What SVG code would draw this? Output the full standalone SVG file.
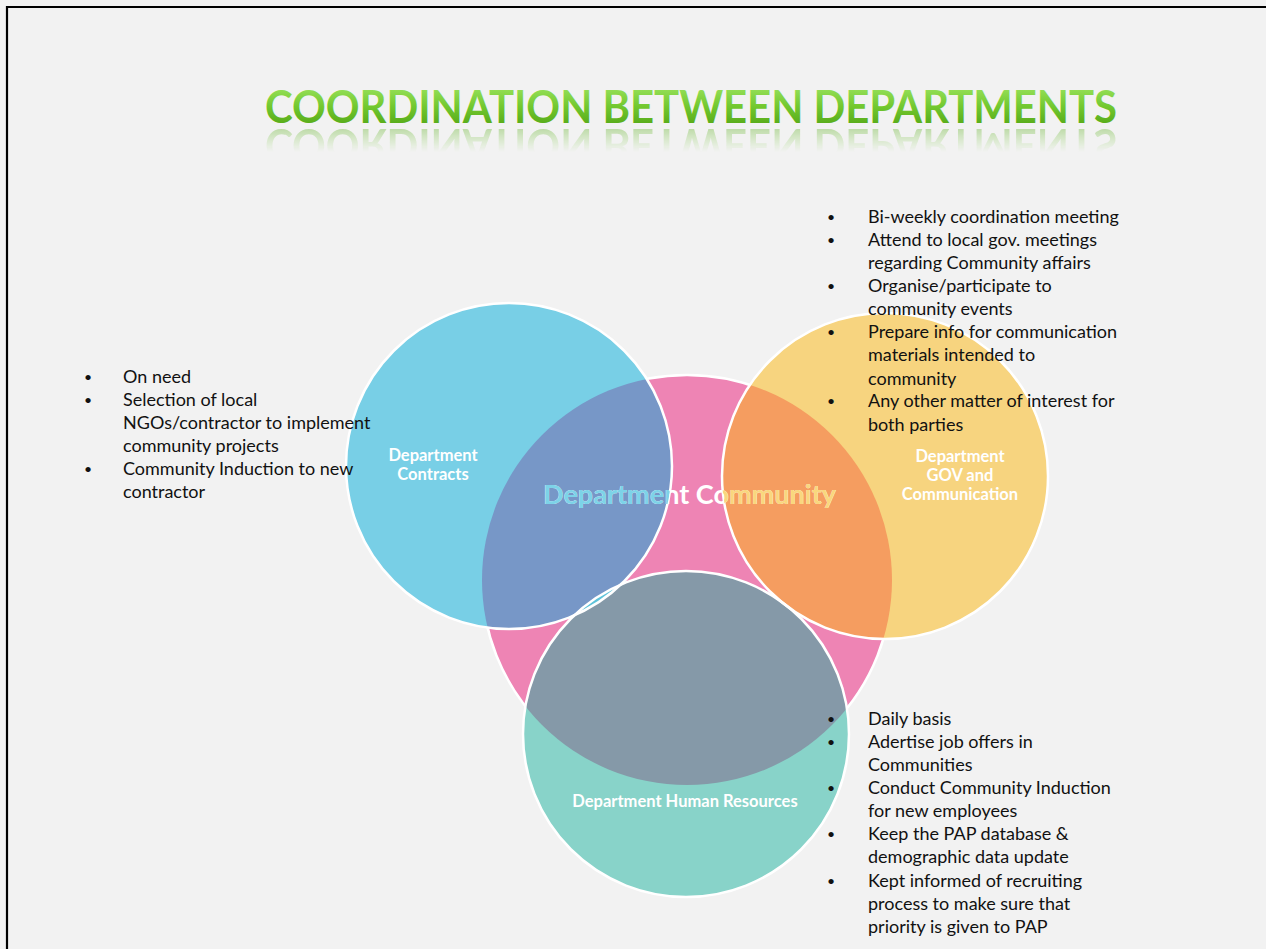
<svg xmlns="http://www.w3.org/2000/svg" xmlns:xlink="http://www.w3.org/1999/xlink" width="1266" height="949" viewBox="0 0 1266 949">
<style>
.bul{font-family:Lato,"Liberation Sans",sans-serif;font-size:18px;fill:#111}
.dot{font-size:14px}
.lbl{font-family:Lato,"Liberation Sans",sans-serif;font-size:16.5px;font-weight:bold;fill:#fff;text-anchor:middle}
.ring{fill:none;stroke:#fff;stroke-width:2.5}
</style>
<defs>
<linearGradient id="tg" gradientUnits="userSpaceOnUse" x1="0" y1="89" x2="0" y2="124">
<stop offset="0" stop-color="#93DE55"/>
<stop offset="0.5" stop-color="#72C82F"/>
<stop offset="1" stop-color="#58AC1A"/>
</linearGradient>
<linearGradient id="rg" gradientUnits="userSpaceOnUse" x1="0" y1="125" x2="0" y2="152">
<stop offset="0" stop-color="#fff" stop-opacity="0.4"/>
<stop offset="1" stop-color="#fff" stop-opacity="0"/>
</linearGradient>
<mask id="rmask" maskUnits="userSpaceOnUse" x="0" y="0" width="1266" height="949">
<rect x="200" y="125" width="1000" height="30" fill="url(#rg)"/>
</mask>
<clipPath id="cB"><circle cx="509" cy="466" r="163"/></clipPath>
<clipPath id="cO"><circle cx="885" cy="476" r="163"/></clipPath>
<clipPath id="cT"><circle cx="686" cy="734" r="163"/></clipPath>
<clipPath id="cP"><circle cx="687" cy="580" r="205"/></clipPath>
</defs>
<rect x="0" y="0" width="1266" height="949" fill="#F2F2F2"/>
<path d="M7 949 V7 H1266" fill="none" stroke="#000" stroke-width="2.2"/>

<g id="title">
<g fill="url(#tg)">
<text id="titleText" x="265" y="123" font-family="Lato,'Liberation Sans',sans-serif" font-size="46" font-weight="bold" textLength="852" lengthAdjust="spacingAndGlyphs">COORDINATION BETWEEN DEPARTMENTS</text>
</g>
<g mask="url(#rmask)">
<use xlink:href="#titleText" href="#titleText" fill="url(#tg)" transform="translate(0,252) scale(1,-1)"/>
</g>
</g>

<g id="connectors"></g>

<g id="node-community">
<circle cx="687" cy="580" r="205" fill="#EE84B4" stroke="#fff" stroke-width="2.5"/>
</g>
<g id="node-contracts">
<circle cx="509" cy="466" r="163" fill="#78CFE6"/>
</g>
<g id="node-gov">
<circle cx="885" cy="476" r="163" fill="#F7D47F"/>
</g>
<g id="node-hr">
<circle cx="686" cy="734" r="163" fill="#88D3C9"/>
</g>
<g id="overlaps">
<g clip-path="url(#cP)"><circle cx="509" cy="466" r="163" fill="#7797C7"/></g>
<g clip-path="url(#cP)"><circle cx="885" cy="476" r="163" fill="#F59D60"/></g>
<g clip-path="url(#cP)"><circle cx="686" cy="734" r="163" fill="#8599A8"/></g>
<g clip-path="url(#cB)"><circle cx="686" cy="734" r="163" fill="#5EC3DA"/></g>
<g clip-path="url(#cO)"><circle cx="686" cy="734" r="163" fill="#9FD9CF"/></g>
</g>
<g id="rings">
<circle class="ring" cx="509" cy="466" r="163"/>
<circle class="ring" cx="885" cy="476" r="163"/>
<circle class="ring" cx="686" cy="734" r="163"/>
</g>

<g id="label-community">
<g fill="#fff">
<text id="commText" x="543" y="504" font-family="Lato,'Liberation Sans',sans-serif" font-size="26" font-weight="bold" textLength="293" lengthAdjust="spacingAndGlyphs">Department Community</text>
</g>
<use xlink:href="#commText" href="#commText" fill="#7DD3E8" clip-path="url(#cB)"/>
<use xlink:href="#commText" href="#commText" fill="#F9D77E" clip-path="url(#cO)"/>
</g>
<g id="label-contracts">
<text class="lbl" x="433" y="461">Department</text>
<text class="lbl" x="433" y="480">Contracts</text>
</g>
<g id="label-gov">
<text class="lbl" x="960" y="462">Department</text>
<text class="lbl" x="960" y="481">GOV and</text>
<text class="lbl" x="960" y="500">Communication</text>
</g>
<g id="label-hr">
<text class="lbl" x="685" y="807">Department Human Resources</text>
</g>

<g id="list-left" class="bul">
<text class="dot" x="84" y="382">•</text><text x="123" y="383">On need</text>
<text class="dot" x="84" y="405">•</text><text x="123" y="406">Selection of local</text>
<text x="123" y="429">NGOs/contractor to implement</text>
<text x="123" y="452">community projects</text>
<text class="dot" x="84" y="474">•</text><text x="123" y="475">Community Induction to new</text>
<text x="123" y="498">contractor</text>
</g>
<g id="list-gov" class="bul">
<text class="dot" x="827" y="222">•</text><text x="868" y="223">Bi-weekly coordination meeting</text>
<text class="dot" x="827" y="245">•</text><text x="868" y="246">Attend to local gov. meetings</text>
<text x="868" y="269">regarding Community affairs</text>
<text class="dot" x="827" y="291">•</text><text x="868" y="292">Organise/participate to</text>
<text x="868" y="315">community events</text>
<text class="dot" x="827" y="337">•</text><text x="868" y="338">Prepare info for communication</text>
<text x="868" y="361">materials intended to</text>
<text x="868" y="385">community</text>
<text class="dot" x="827" y="406">•</text><text x="868" y="407">Any other matter of interest for</text>
<text x="868" y="431">both parties</text>
</g>
<g id="list-hr" class="bul">
<text class="dot" x="827" y="724">•</text><text x="868" y="725">Daily basis</text>
<text class="dot" x="827" y="747">•</text><text x="868" y="748">Adertise job offers in</text>
<text x="868" y="771">Communities</text>
<text class="dot" x="827" y="793">•</text><text x="868" y="794">Conduct Community Induction</text>
<text x="868" y="817">for new employees</text>
<text class="dot" x="827" y="839">•</text><text x="868" y="840">Keep the PAP database &amp;</text>
<text x="868" y="863">demographic data update</text>
<text class="dot" x="827" y="886">•</text><text x="868" y="887">Kept informed of recruiting</text>
<text x="868" y="910">process to make sure that</text>
<text x="868" y="933">priority is given to PAP</text>
</g>
</svg>
